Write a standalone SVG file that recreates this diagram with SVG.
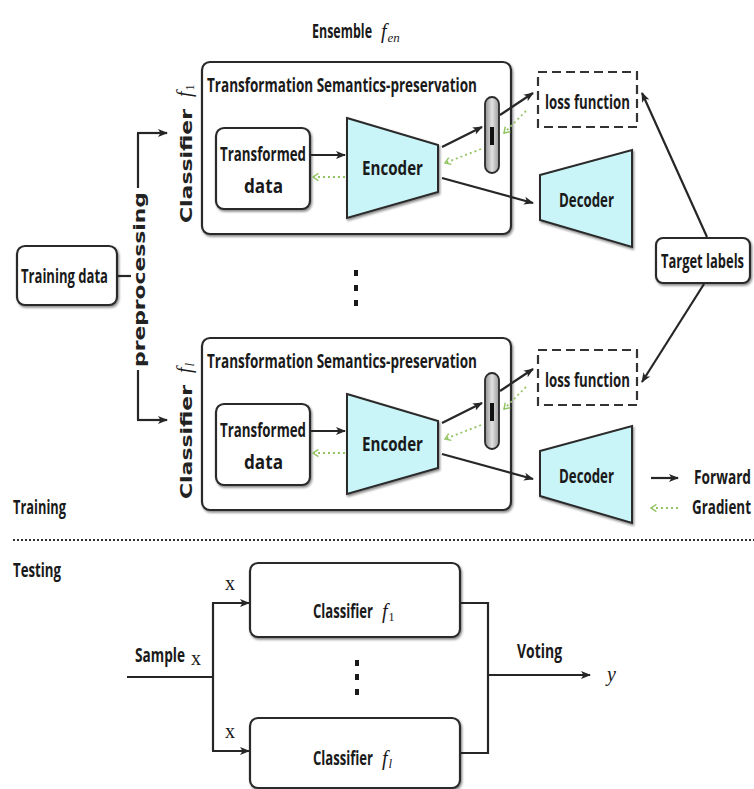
<svg xmlns="http://www.w3.org/2000/svg" width="754" height="789" viewBox="0 0 754 789">
  <style>
    .box { fill: #fff; stroke: #2a2a2a; stroke-width: 2.2; filter: url(#shadow); }
    .dash { fill: #fff; stroke: #333; stroke-width: 2.2; stroke-dasharray: 9 5; }
    .trap { fill: #c9f4f8; stroke: #2a2a2a; stroke-width: 2; filter: url(#shadow); }
    .lbl { font-family: "Open Sans", "Liberation Sans", sans-serif; font-weight: 700; font-size: 19.5px; fill: #1a1a1a; }
    .rot { font-family: "DejaVu Sans", "Liberation Sans", sans-serif; font-weight: bold; font-size: 15px; fill: #222; }
    .math { font-family: "Liberation Serif", "Times New Roman", serif; font-style: italic; font-size: 20px; fill: #1a1a1a; }
    .var { font-family: "Liberation Serif", "Times New Roman", serif; font-size: 20px; fill: #1a1a1a; }
    .sub { font-style: normal; font-size: 12px; }
    .subi { font-size: 13px; }
    .fw { fill: none; stroke: #262626; stroke-width: 2.2; marker-end: url(#ah); }
    .ln { fill: none; stroke: #262626; stroke-width: 2.2; }
    .grad { fill: none; stroke: #93c463; stroke-width: 1.8; stroke-dasharray: 2 3; marker-end: url(#gh); }
    .dot { fill: #1a1a1a; }
  </style>
  <defs>
    <filter id="shadow" x="-10%" y="-10%" width="120%" height="125%">
      <feDropShadow dx="1.2" dy="1.8" stdDeviation="0.8" flood-color="#000" flood-opacity="0.45"/>
    </filter>
    <marker id="ah" viewBox="0 0 10 10" refX="9" refY="5" markerWidth="10" markerHeight="10" markerUnits="userSpaceOnUse" orient="auto">
      <path d="M0,1 L10,5 L0,9 L2.5,5 z" fill="#262626"/>
    </marker>
    <marker id="gh" viewBox="0 0 10 10" refX="8" refY="5" markerWidth="9" markerHeight="9" markerUnits="userSpaceOnUse" orient="auto">
      <path d="M2,1 L8,5 L2,9" fill="none" stroke="#93c463" stroke-width="1.6"/>
    </marker>
    <linearGradient id="pillfill" x1="0" y1="0" x2="1" y2="0">
      <stop offset="0" stop-color="#8f8f8f"/>
      <stop offset="0.5" stop-color="#e2e2e2"/>
      <stop offset="1" stop-color="#9a9a9a"/>
    </linearGradient>
  </defs>

  <rect width="754" height="789" fill="#fff"/>

  <!-- ensemble title -->
  <g id="ensemble-title">
    <text class="lbl" x="312" y="38" textLength="60" lengthAdjust="spacingAndGlyphs">Ensemble</text>
    <text class="math" x="381" y="38">f<tspan class="subi" dx="1" dy="4">en</tspan></text>
  </g>

  <!-- training input -->
  <g id="training-data">
    <rect class="box" x="17" y="246" width="100" height="59" rx="8"/>
    <text class="lbl" x="21" y="283" textLength="87" lengthAdjust="spacingAndGlyphs">Training data</text>
  </g>

  <!-- classifier block 1 -->
  <g id="classifier-1">
    <rect class="box" x="202" y="62" width="309" height="172" rx="8"/>
    <text class="lbl" x="207" y="92" textLength="270" lengthAdjust="spacingAndGlyphs">Transformation Semantics-preservation</text>
    <g transform="translate(192,223) rotate(-90)">
      <text class="rot" x="0" y="0" textLength="114" lengthAdjust="spacingAndGlyphs">Classifier</text>
      <text class="math" x="126" y="-1">f<tspan class="sub" dx="1" dy="3">1</tspan></text>
    </g>
  </g>
  <g id="transformed-1">
    <rect class="box" x="216" y="128" width="94" height="81" rx="8"/>
    <text class="lbl" x="220" y="161" textLength="86" lengthAdjust="spacingAndGlyphs">Transformed</text>
    <text class="lbl" x="244" y="193" textLength="39" lengthAdjust="spacingAndGlyphs">data</text>
  </g>
  <g id="encoder-1">
    <polygon class="trap" points="347,118 438,145 438,192 347,218"/>
    <text class="lbl" x="362" y="175" textLength="61" lengthAdjust="spacingAndGlyphs">Encoder</text>
  </g>
  <g id="pill-1">
    <rect x="485" y="97" width="14" height="76" rx="7" fill="url(#pillfill)" stroke="#2a2a2a" stroke-width="1.8"/>
    <rect x="490" y="127" width="4" height="18" fill="#111"/>
  </g>
  <g id="loss-1">
    <rect class="dash" x="538" y="72" width="99" height="55"/>
    <text class="lbl" x="545" y="109" textLength="85" lengthAdjust="spacingAndGlyphs">loss function</text>
  </g>
  <g id="decoder-1">
    <polygon class="trap" points="540,175 632,150 632,247 540,220"/>
    <text class="lbl" x="559" y="207" textLength="55" lengthAdjust="spacingAndGlyphs">Decoder</text>
  </g>

  <!-- classifier block l -->
  <g id="classifier-l">
    <rect class="box" x="202" y="338" width="309" height="172" rx="8"/>
    <text class="lbl" x="207" y="368" textLength="270" lengthAdjust="spacingAndGlyphs">Transformation Semantics-preservation</text>
    <g transform="translate(192,499) rotate(-90)">
      <text class="rot" x="0" y="0" textLength="114" lengthAdjust="spacingAndGlyphs">Classifier</text>
      <text class="math" x="126" y="-1">f<tspan class="subi" dx="1" dy="3">l</tspan></text>
    </g>
  </g>
  <g id="transformed-l">
    <rect class="box" x="216" y="404" width="94" height="81" rx="8"/>
    <text class="lbl" x="220" y="437" textLength="86" lengthAdjust="spacingAndGlyphs">Transformed</text>
    <text class="lbl" x="244" y="469" textLength="39" lengthAdjust="spacingAndGlyphs">data</text>
  </g>
  <g id="encoder-l">
    <polygon class="trap" points="347,394 438,421 438,468 347,494"/>
    <text class="lbl" x="362" y="451" textLength="61" lengthAdjust="spacingAndGlyphs">Encoder</text>
  </g>
  <g id="pill-l">
    <rect x="485" y="373" width="14" height="76" rx="7" fill="url(#pillfill)" stroke="#2a2a2a" stroke-width="1.8"/>
    <rect x="490" y="403" width="4" height="18" fill="#111"/>
  </g>
  <g id="loss-l">
    <rect class="dash" x="538" y="350" width="99" height="55"/>
    <text class="lbl" x="545" y="387" textLength="85" lengthAdjust="spacingAndGlyphs">loss function</text>
  </g>
  <g id="decoder-l">
    <polygon class="trap" points="540,451 632,426 632,523 540,496"/>
    <text class="lbl" x="559" y="483" textLength="55" lengthAdjust="spacingAndGlyphs">Decoder</text>
  </g>

  <g id="target-labels">
    <rect class="box" x="656" y="238" width="94" height="45" rx="7"/>
    <text class="lbl" x="661" y="268" textLength="83" lengthAdjust="spacingAndGlyphs">Target labels</text>
  </g>

  <!-- ellipsis between classifiers -->
  <g id="ellipsis-train">
    <rect class="dot" x="354" y="270" width="4" height="6"/>
    <rect class="dot" x="354" y="285" width="4" height="6"/>
    <rect class="dot" x="354" y="300" width="4" height="6"/>
  </g>

  <!-- connectors -->
  <g id="connectors">
    <!-- preprocessing split -->
    <path class="ln" d="M117,276 H138"/>
    <path class="ln" d="M138,133 V420"/>
    <path class="fw" d="M137,133 H167"/>
    <path class="fw" d="M137,420 H167"/>

    <!-- block 1 forward -->
    <path class="fw" d="M310,155 H345"/>
    <path class="fw" d="M442,147 L482,127"/>
    <path class="fw" d="M500,115 L533,93"/>
    <path class="fw" d="M442,178 L533,203"/>
    <!-- block 1 gradient -->
    <path class="grad" d="M526,111 L504,133"/>
    <path class="grad" d="M481,149 L445,163"/>
    <path class="grad" d="M345,177 L313,177"/>

    <!-- block l forward -->
    <path class="fw" d="M310,431 H345"/>
    <path class="fw" d="M442,423 L482,403"/>
    <path class="fw" d="M500,391 L533,369"/>
    <path class="fw" d="M442,454 L533,479"/>
    <!-- block l gradient -->
    <path class="grad" d="M526,387 L504,409"/>
    <path class="grad" d="M481,425 L445,439"/>
    <path class="grad" d="M345,453 L313,453"/>

    <!-- target labels to losses -->
    <path class="fw" d="M707,237 L642,93"/>
    <path class="fw" d="M704,284 L642,382"/>

    <!-- testing -->
    <path class="ln" d="M127,677 H213"/>
    <path class="ln" d="M213,603 V751"/>
    <path class="fw" d="M212,603 H249"/>
    <path class="fw" d="M212,751 H249"/>
    <path class="ln" d="M460,603 H488 V753 H460"/>
    <path class="fw" d="M488,675 H590"/>
  </g>

  <!-- preprocessing label over the split line -->
  <g id="preprocessing-label">
    <rect x="131" y="188" width="18" height="182" fill="#fff"/>
    <text class="rot" transform="translate(145,367) rotate(-90)" textLength="175" lengthAdjust="spacingAndGlyphs">preprocessing</text>
  </g>

  <!-- legend -->
  <g id="legend">
    <path class="fw" d="M651,478 H678"/>
    <text class="lbl" x="694" y="484" textLength="57" lengthAdjust="spacingAndGlyphs">Forward</text>
    <path class="grad" d="M678,508 H651"/>
    <text class="lbl" x="692" y="514" textLength="59" lengthAdjust="spacingAndGlyphs">Gradient</text>
  </g>

  <!-- phase separator -->
  <g id="phases">
    <text class="lbl" x="13" y="514" textLength="53" lengthAdjust="spacingAndGlyphs">Training</text>
    <line x1="13" y1="540" x2="754" y2="540" stroke="#333" stroke-width="2" stroke-dasharray="2 2"/>
    <text class="lbl" x="13" y="577" textLength="48" lengthAdjust="spacingAndGlyphs">Testing</text>
  </g>

  <!-- testing stage -->
  <g id="test-classifier-1">
    <rect class="box" x="250" y="563" width="210" height="74" rx="8"/>
    <text class="lbl" x="313" y="618" textLength="60" lengthAdjust="spacingAndGlyphs">Classifier</text>
    <text class="math" x="382" y="618">f<tspan class="sub" dx="1" dy="3">1</tspan></text>
  </g>
  <g id="test-classifier-l">
    <rect class="box" x="250" y="718" width="210" height="70" rx="8"/>
    <text class="lbl" x="313" y="765" textLength="60" lengthAdjust="spacingAndGlyphs">Classifier</text>
    <text class="math" x="382" y="765">f<tspan class="subi" dx="1" dy="3">l</tspan></text>
  </g>
  <g id="ellipsis-test">
    <rect class="dot" x="355" y="660" width="4" height="6"/>
    <rect class="dot" x="355" y="674" width="4" height="6"/>
    <rect class="dot" x="355" y="689" width="4" height="6"/>
  </g>
  <g id="test-labels">
    <text class="lbl" x="135" y="662" textLength="50" lengthAdjust="spacingAndGlyphs">Sample</text>
    <text class="var" x="191" y="665">x</text>
    <text class="var" x="225" y="590">x</text>
    <text class="var" x="225" y="738">x</text>
    <text class="lbl" x="517" y="658" textLength="45" lengthAdjust="spacingAndGlyphs">Voting</text>
    <text class="math" x="607" y="681">y</text>
  </g>
</svg>
